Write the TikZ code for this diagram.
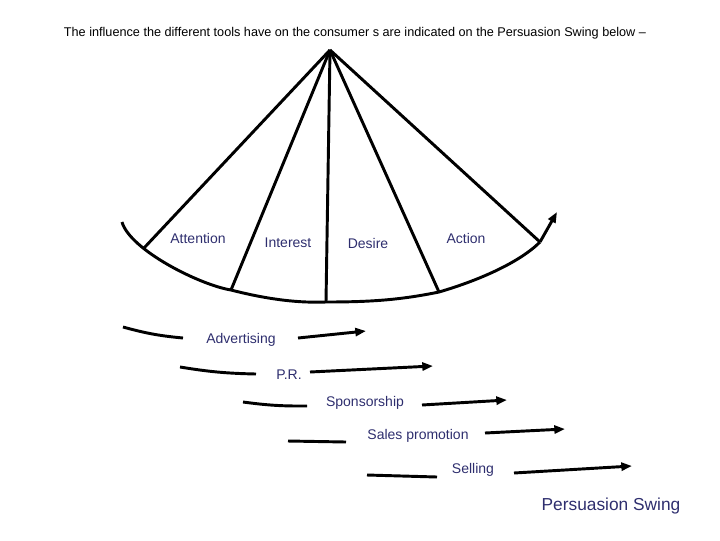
\documentclass[tikz,border=0pt]{standalone}
\usepackage{fontspec}
\setmainfont{Liberation Sans}
\usetikzlibrary{arrows.meta}
\definecolor{navy}{HTML}{2E2E6E}
\begin{document}
\begin{tikzpicture}[x=0.75pt,y=-0.75pt,
  thick line/.style={line width=2.2pt,black},
  arrowline/.style={thick line,-{Triangle[length=8pt,width=6pt]}},
  lbl/.style={text=navy,font=\fontsize{10.5pt}{12pt}\selectfont,inner sep=1pt}]
\useasboundingbox (0,0) rectangle (720,540);
\node[font=\fontsize{9.5pt}{11pt}\selectfont] (title) at (355,33) {The influence the different tools have on the consumer s are indicated on the Persuasion Swing below --};
\coordinate (apex) at (330,50);
\coordinate (a) at (144,248);
\coordinate (i) at (231,290);
\coordinate (c) at (326,302);
\coordinate (d) at (439,292);
\coordinate (r) at (540,242);
\coordinate (s) at (122,222);
\coordinate (t) at (557,212);
\draw[thick line] (s) .. controls (130,250) and (200,285) .. (i) .. controls (270,300) and (300,303) .. (c) .. controls (370,302) and (400,300) .. (d) .. controls (480,280) and (520,262) .. (r);
\draw[arrowline] (r) -- (t);
\foreach \p in {a,i,c,d,r} \draw[thick line] (apex) -- (\p);
\node[lbl] (att) at (198,238) {Attention};
\node[lbl] (int) at (288,243) {Interest};
\node[lbl] (des) at (368,243) {Desire};
\node[lbl] (act) at (466,238) {Action};
% rows
\coordinate (l1a) at (123,327); \coordinate (l1b) at (183,338);
\node[lbl] (adv) at (241,340) {Advertising};
\coordinate (r1a) at (298,338); \coordinate (r1b) at (366,331);
\draw[thick line] (l1a) to[bend right=5] (l1b);
\draw[arrowline] (r1a) -- (r1b);
\coordinate (l2a) at (180,367); \coordinate (l2b) at (256,374);
\node[lbl] (pr) at (289,375) {P.R.};
\coordinate (r2a) at (310,372); \coordinate (r2b) at (433,366);
\draw[thick line] (l2a) to[bend right=4] (l2b);
\draw[arrowline] (r2a) -- (r2b);
\coordinate (l3a) at (243,402); \coordinate (l3b) at (307,406);
\node[lbl] (sp) at (365,403) {Sponsorship};
\coordinate (r3a) at (422,405); \coordinate (r3b) at (507,400);
\draw[thick line] (l3a) to[bend right=4] (l3b);
\draw[arrowline] (r3a) -- (r3b);
\coordinate (l4a) at (288,441); \coordinate (l4b) at (346,442);
\node[lbl] (sal) at (418,436) {Sales promotion};
\coordinate (r4a) at (485,433); \coordinate (r4b) at (565,429);
\draw[thick line] (l4a) -- (l4b);
\draw[arrowline] (r4a) -- (r4b);
\coordinate (l5a) at (367,475); \coordinate (l5b) at (437,477);
\node[lbl] (sel) at (473,470) {Selling};
\coordinate (r5a) at (514,473); \coordinate (r5b) at (632,466);
\draw[thick line] (l5a) -- (l5b);
\draw[arrowline] (r5a) -- (r5b);
\node[text=navy,font=\fontsize{13pt}{15pt}\selectfont] (ps) at (611,506) {Persuasion Swing};
\end{tikzpicture}
\end{document}
